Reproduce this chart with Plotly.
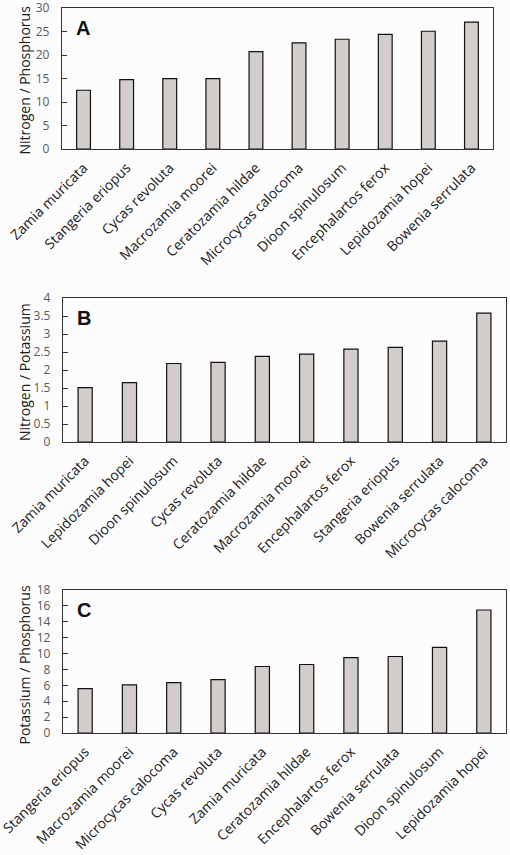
import plotly.graph_objects as go
from plotly.subplots import make_subplots

cats_A = ["Zamia muricata", "Stangeria eriopus", "Cycas revoluta", "Macrozamia moorei",
          "Ceratozamia hildae", "Microcycas calocoma", "Dioon spinulosum",
          "Encephalartos ferox", "Lepidozamia hopei", "Bowenia serrulata"]
vals_A = [12.5, 14.75, 14.96, 14.96, 20.7, 22.6, 23.35, 24.4, 25.05, 27.0]

cats_B = ["Zamia muricata", "Lepidozamia hopei", "Dioon spinulosum", "Cycas revoluta",
          "Ceratozamia hildae", "Macrozamia moorei", "Encephalartos ferox",
          "Stangeria eriopus", "Bowenia serrulata", "Microcycas calocoma"]
vals_B = [1.51, 1.65, 2.18, 2.21, 2.38, 2.44, 2.58, 2.63, 2.80, 3.58]

cats_C = ["Stangeria eriopus", "Macrozamia moorei", "Microcycas calocoma", "Cycas revoluta",
          "Zamia muricata", "Ceratozamia hildae", "Encephalartos ferox",
          "Bowenia serrulata", "Dioon spinulosum", "Lepidozamia hopei"]
vals_C = [5.59, 6.06, 6.35, 6.73, 8.37, 8.62, 9.50, 9.63, 10.77, 15.48]

titles = ["Nitrogen / Phosphorus", "Nitrogen / Potassium", "Potassium / Phosphorus"]
letters = ["A", "B", "C"]
ranges = [(0, 30, 5), (0, 4, 0.5), (0, 18, 2)]

W, H = 510, 855
BG = "#fdfcfd"
BAR = "#d3cdcb"
FONT = "Open Sans"

# pixel boxes (left, right, top, bottom)
boxes = [(62, 493, 8, 149), (63, 506, 298, 442), (63, 506, 590, 733)]


def px(x):
    return x / W


def py(y):
    return 1 - y / H


fig = make_subplots(rows=3, cols=1)
for i, (cats, vals) in enumerate([(cats_A, vals_A), (cats_B, vals_B), (cats_C, vals_C)]):
    fig.add_trace(go.Bar(x=cats, y=vals, width=0.32, marker=dict(color=BAR,
                  line=dict(color="#111111", width=1.2)), showlegend=False,
                  hoverinfo="skip"), row=i + 1, col=1)

for i in range(3):
    l, r, t, b = boxes[i]
    xa = "xaxis" if i == 0 else f"xaxis{i+1}"
    ya = "yaxis" if i == 0 else f"yaxis{i+1}"
    lo, hi, dt = ranges[i]
    fig.layout[xa].update(domain=[px(l), px(r)], showline=True, linecolor="#333333",
                          linewidth=1.3, mirror=True, ticks="", tickangle=-45,
                          automargin=False, ticklabeloverflow="allow",
                          ticklabelstandoff=4,
                          tickfont=dict(family=FONT, size=14, color="#1a1a1a"),
                          showgrid=False, zeroline=False)
    fig.layout[ya].update(domain=[py(b), py(t)], range=[lo, hi], dtick=dt,
                          tick0=0, showline=True, linecolor="#333333", linewidth=1.3,
                          mirror=True, ticks="inside", ticklen=5, tickcolor="#333333",
                          automargin=False, ticklabeloverflow="allow",
                          tickfont=dict(family=FONT, size=12, color="#595959"),
                          ticklabelstandoff=9, showgrid=False, zeroline=False)
    fig.add_annotation(text=titles[i], textangle=-90, xref="paper", yref="paper",
                       x=px(24), y=py((t + b) / 2 + (4 if i == 2 else 2)),
                       xanchor="center", yanchor="middle", showarrow=False,
                       font=dict(family=FONT, size=14, color="#1a1a1a"))
    fig.add_annotation(text=f"<b>{letters[i]}</b>", xref="paper", yref="paper",
                       x=px(l + 12), y=py(t + 20),
                       xanchor="left", yanchor="middle", showarrow=False,
                       font=dict(family="Liberation Sans", size=20, color="#111111"))

fig.update_layout(width=W, height=H, margin=dict(l=0, r=0, t=0, b=0),
                  paper_bgcolor=BG, plot_bgcolor=BG, bargap=0.68)
fig.write_html("out.html", config={"displayModeBar": False},
               post_script="document.body.style.margin='0';")
